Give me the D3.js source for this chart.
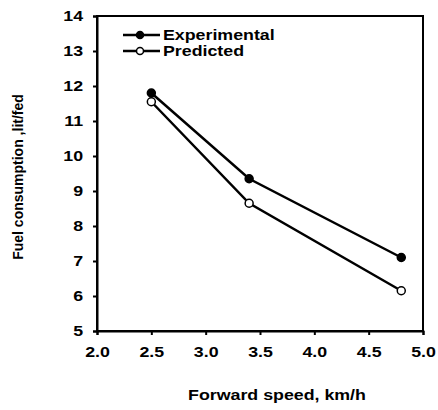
<!DOCTYPE html>
<html>
<head>
<meta charset="utf-8">
<script src="https://cdn.jsdelivr.net/npm/d3@7"></script>
<style>
  body { margin: 0; background: #fff; }
  svg { font-family: Arial, "Liberation Sans", sans-serif; font-weight: bold; }
</style>
</head>
<body>
<div class="chart"></div>
<script>
const speed = [2.5, 3.4, 4.8]
const experimental = [11.8, 9.35, 7.1]
const predicted = [11.55, 8.65, 6.15]
const xTicks = [2.0, 2.5, 3.0, 3.5, 4.0, 4.5, 5.0]
const yTicks = [5, 6, 7, 8, 9, 10, 11, 12, 13, 14]

// the scanned figure is stretched sideways, so text is widened a bit
const stretch = 1.27

const margin = ({top: 16, right: 15, bottom: 79, left: 97})
const width = 438 - margin.left - margin.right
const height = 410 - margin.top - margin.bottom

var svg = d3.select('.chart')
    .append("svg")
    .attr("width", 438)
    .attr("height", 410)
    .append("g")
    .attr("transform", `translate(${margin.left},${margin.top})`)

var x = d3.scaleLinear().domain([2, 5]).range([0, width])
var y = d3.scaleLinear().domain([5, 14]).range([height, 0])

// frame
svg.append("rect")
    .attr("width", width)
    .attr("height", height)
    .attr("fill", "none")
    .attr("stroke", "#000")
    .attr("stroke-width", 2)

var xAxis = svg.append("g")
    .attr("transform", `translate(0,${height})`)
    .call(d3.axisBottom(x).tickValues(xTicks).tickFormat(d3.format(".1f")).tickSize(4).tickPadding(12))
var yAxis = svg.append("g")
    .call(d3.axisLeft(y).tickValues(yTicks).tickSize(4).tickPadding(7))

;[xAxis, yAxis].forEach(g => {
    g.select(".domain").attr("stroke-width", 2)
    g.selectAll(".tick line").attr("stroke-width", 2)
    g.selectAll("text").attr("font-size", 14).attr("font-weight", "bold").attr("fill", "#000")
        .attr("font-family", "Arial, 'Liberation Sans', sans-serif")
        .attr("transform", `scale(${stretch},1)`)
})

svg.append("text")
    .attr("transform", `translate(${277 - margin.left},${400 - margin.top}) scale(${stretch},1)`)
    .attr("text-anchor", "middle")
    .attr("font-size", 14)
    .text("Forward speed, km/h")

svg.append("text")
    .attr("transform", `translate(${23 - margin.left},${177 - margin.top}) rotate(-90)`)
    .attr("text-anchor", "middle")
    .attr("font-size", 14)
    .text("Fuel consumption ,lit/fed")

const series = [
    {name: "Experimental", values: experimental, fill: "#000"},
    {name: "Predicted", values: predicted, fill: "#fff"}
]

const line = d3.line()
    .x((d, i) => x(speed[i]))
    .y(d => y(d))

series.forEach((s, k) => {
    svg.append("path")
        .datum(s.values)
        .attr("fill", "none")
        .attr("stroke", "#000")
        .attr("stroke-width", 2.5)
        .attr("d", line)

    svg.selectAll(null)
        .data(s.values)
        .join("circle")
        .attr("cx", (d, i) => x(speed[i]))
        .attr("cy", d => y(d))
        .attr("r", 4)
        .attr("fill", s.fill)
        .attr("stroke", "#000")
        .attr("stroke-width", 1.5)

    // legend
    let ly = 19 + k * 16
    svg.append("line")
        .attr("x1", 26).attr("x2", 63)
        .attr("y1", ly).attr("y2", ly)
        .attr("stroke", "#000")
        .attr("stroke-width", 2.5)
    svg.append("circle")
        .attr("cx", 43).attr("cy", ly).attr("r", 3.5)
        .attr("fill", s.fill)
        .attr("stroke", "#000")
        .attr("stroke-width", 1.5)
    svg.append("text")
        .attr("transform", `translate(66,${ly + 5}) scale(${stretch},1)`)
        .attr("font-size", 14)
        .text(s.name)
})
</script>
</body>
</html>
